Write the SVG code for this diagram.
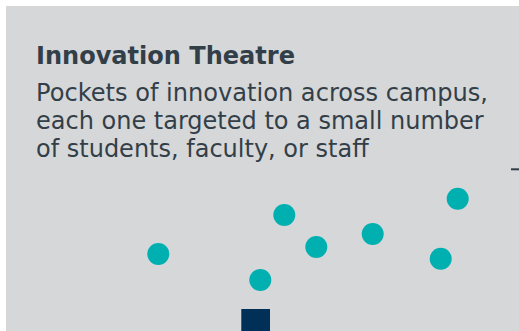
<svg xmlns="http://www.w3.org/2000/svg" width="519" height="331" viewBox="0 0 519 331">
<style>
.t{font-family:"DejaVu Sans","Verdana",sans-serif;fill:#333f48}
.h{font-size:24px;font-weight:bold}
.b{font-size:24px}
.pt{fill:#00b0b0}
</style>
<rect x="0" y="0" width="519" height="331" fill="#ffffff"/>
<rect x="6" y="6" width="513" height="325" fill="#d6d7d9"/>
<g id="title"><text class="t h" x="36" y="64" textLength="259" lengthAdjust="spacingAndGlyphs">Innovation Theatre</text></g>
<g id="body">
<text class="t b" x="36" y="101" textLength="452" lengthAdjust="spacingAndGlyphs">Pockets of innovation across campus,</text>
<text class="t b" x="36" y="129">each one targeted to a small number</text>
<text class="t b" x="36" y="157">of students, faculty, or staff</text>
</g>
<g id="connectors"><line x1="511" y1="169.3" x2="519" y2="169.3" stroke="#333f48" stroke-width="2"/></g>
<g id="p1"><circle class="pt" cx="158.3" cy="254" r="11"/></g>
<g id="p2"><circle class="pt" cx="284.3" cy="215" r="11"/></g>
<g id="p3"><circle class="pt" cx="316.3" cy="247" r="11"/></g>
<g id="p4"><circle class="pt" cx="260.3" cy="280" r="11"/></g>
<g id="p5"><circle class="pt" cx="372.7" cy="234" r="11"/></g>
<g id="p6"><circle class="pt" cx="457.7" cy="198.7" r="11"/></g>
<g id="p7"><circle class="pt" cx="440.7" cy="258.7" r="11"/></g>
<g id="sq"><rect x="241.3" y="309" width="28.7" height="22" fill="#003057"/></g>
</svg>
